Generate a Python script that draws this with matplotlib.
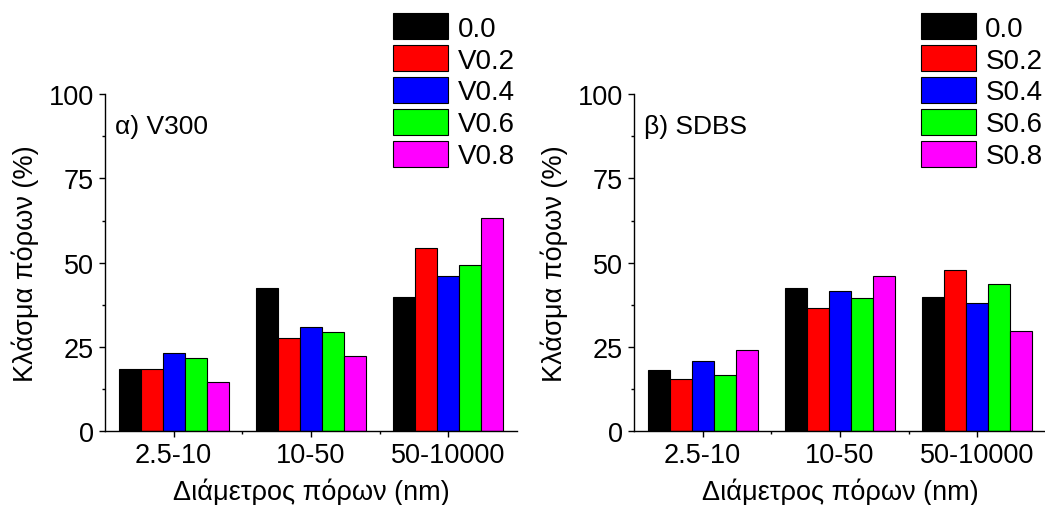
import numpy as np
import matplotlib
matplotlib.use("Agg")
import matplotlib.pyplot as plt
from matplotlib.ticker import MultipleLocator, FixedLocator

plt.rcParams['font.family'] = ['Liberation Sans', 'DejaVu Sans']

categories = ["2.5-10", "10-50", "50-10000"]
colors = ["#000000", "#FF0000", "#0000FF", "#00FF00", "#FF00FF"]

# a) V300
v_labels = ["0.0", "V0.2", "V0.4", "V0.6", "V0.8"]
v_values = [
    [18.3, 42.6, 39.8],   # 0.0
    [18.5, 27.7, 54.2],   # V0.2
    [23.3, 31.0, 46.0],   # V0.4
    [21.7, 29.4, 49.2],   # V0.6
    [14.7, 22.3, 63.3],   # V0.8
]

# b) SDBS
s_labels = ["0.0", "S0.2", "S0.4", "S0.6", "S0.8"]
s_values = [
    [18.2, 42.6, 39.8],
    [15.6, 36.6, 47.8],
    [20.8, 41.5, 38.0],
    [16.8, 39.5, 43.8],
    [24.2, 46.1, 29.8],
]

FS = 19.5


def draw_panel(ax, values, labels, title, legend_x):
    x = np.arange(1, len(categories) + 1)
    w = 0.16
    handles = []
    for i, (vals, lab) in enumerate(zip(values, labels)):
        offs = (i - 2) * w
        b = ax.bar(x + offs, vals, width=w, color=colors[i], edgecolor="black",
                   linewidth=0.8, label=lab)
        handles.append(b)

    ax.set_xlim(0.5, 3.5)
    ax.set_ylim(0, 100)
    ax.set_xticks(x)
    ax.set_xticklabels(categories)
    ax.xaxis.set_minor_locator(FixedLocator([1.5, 2.5]))
    ax.yaxis.set_major_locator(MultipleLocator(25))
    ax.yaxis.set_minor_locator(MultipleLocator(12.5))
    ax.tick_params(which="major", direction="out", length=4, width=1, labelsize=FS, pad=4)
    ax.tick_params(which="minor", direction="out", length=2.5, width=1)
    for s in ["top", "right"]:
        ax.spines[s].set_visible(False)
    for s in ["left", "bottom"]:
        ax.spines[s].set_linewidth(1)

    ax.set_ylabel("Κλάσμα πόρων (%)", fontsize=FS, labelpad=7)
    ax.set_xlabel("Διάμετρος πόρων (nm)", fontsize=FS, labelpad=7)
    ax.text(0.025, 0.905, title, transform=ax.transAxes, fontsize=19,
            ha="left", va="center")

    fig.legend(handles=handles, loc="upper left", bbox_to_anchor=(legend_x, 0.972),
               frameon=False, fontsize=20, handlelength=2.0, handleheight=1.05,
               labelspacing=0.13, handletextpad=0.33, borderaxespad=0, borderpad=0)


fig = plt.figure(figsize=(10.45, 5.06), dpi=100)
ax1 = fig.add_axes([0.1005, 0.146, 0.3942, 0.666])
ax2 = fig.add_axes([0.6067, 0.146, 0.3942, 0.666])

draw_panel(ax1, v_values, v_labels, "α) V300", 0.376)
draw_panel(ax2, s_values, s_labels, "β) SDBS", 0.881)

fig.savefig("out.png", dpi=100)
